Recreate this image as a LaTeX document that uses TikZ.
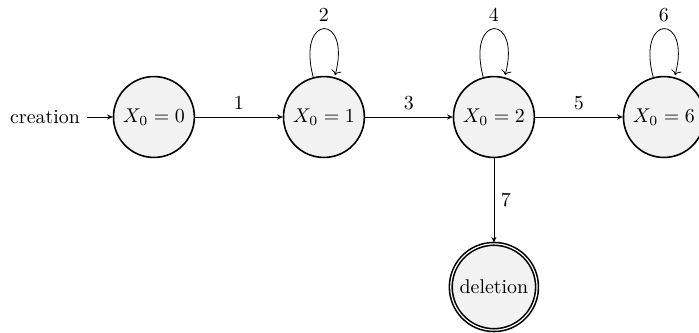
\documentclass[tikz,border=0pt]{standalone}
\usetikzlibrary{arrows.meta,positioning,automata}

\begin{document}
\begin{tikzpicture}[
   node distance=3cm, on grid, auto,
   st/.style={state,thick,draw=black,fill=gray!10},
   arr/.style={-{Stealth[length=2.8pt,width=2.6pt]},thin},
   initial text=creation,
   every initial by arrow/.style={-{Stealth[length=2.8pt,width=2.6pt]},thin}]
   \useasboundingbox (-77.3pt,-108pt) rectangle (273.7pt,58.75pt);
   \node[st,initial] (q0) {$X_0=0$};
   \node[st, right=of q0] (q1) {$X_0=1$};
   \node[st, right=of q1] (q2) {$X_0=2$};
   \node[st, right=of q2] (q6) {$X_0=6$};
   \node[st,accepting, below=of q2] (del) {deletion};
   \draw[arr] (q0) edge node {1} (q1);
   \draw[arr] (q1) edge[loop above] node {2} ();
   \draw[arr] (q1) edge node {3} (q2);
   \draw[arr] (q2) edge[loop above] node {4} ();
   \draw[arr] (q2) edge node {5} (q6);
   \draw[arr] (q6) edge[loop above] node {6} ();
   \draw[arr] (q2) edge node {7} (del);
\end{tikzpicture}
\end{document}
